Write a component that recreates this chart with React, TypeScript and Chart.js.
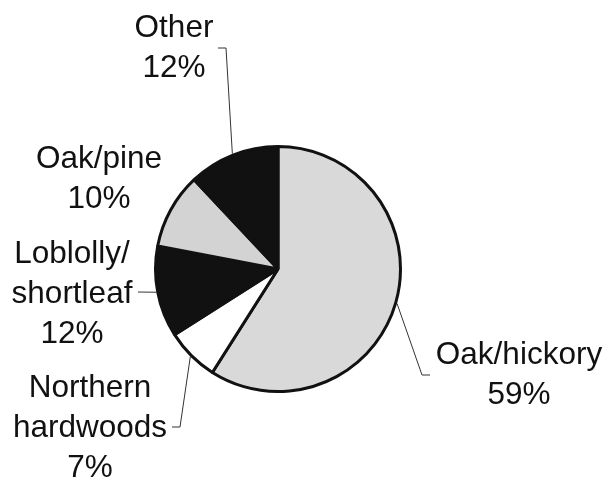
import React, { useEffect, useRef } from "react";
import { Chart, registerables } from "chart.js";

Chart.register(...registerables);

// ---- data ----
const categories = ["Oak/hickory", "Northern hardwoods", "Loblolly/shortleaf", "Oak/pine", "Other"];
const shares = [59, 7, 12, 10, 12];
const nameLines = [["Oak/hickory"], ["Northern", "hardwoods"], ["Loblolly/", "shortleaf"], ["Oak/pine"], ["Other"]];
const sliceColors = ["#d9d9d9", "#ffffff", "#111111", "#d3d3d3", "#111111"];

// ---- label layout (offsets from the pie centre, px) ----
const labelAnchors = [
  { dx: 241, dy: 95 },
  { dx: -188, dy: 128 },
  { dx: -206, dy: -6 },
  { dx: -179, dy: -101 },
  { dx: -104, dy: -232 },
];
const leaderPaths: ({ dx: number; dy: number }[] | null)[] = [
  [{ dx: 144, dy: 106 }, { dx: 152, dy: 106 }],
  [{ dx: -98, dy: 158 }, { dx: -106, dy: 158 }],
  [{ dx: -140, dy: 23 }],
  null,
  [{ dx: -52, dy: -221 }, { dx: -60, dy: -221 }],
];

const FONT = '31.5px "Liberation Sans", Arial, Helvetica, sans-serif';
const LINE_GAP = 40;

const labelPlugin = {
  id: "pieLabels",
  afterDatasetsDraw(chart: any) {
    const ctx = chart.ctx as CanvasRenderingContext2D;
    const meta = chart.getDatasetMeta(0);
    ctx.save();
    meta.data.forEach((arc: any, i: number) => {
      const p = arc.getProps(["x", "y", "startAngle", "endAngle", "outerRadius"], true);
      const mid = (p.startAngle + p.endAngle) / 2;
      const r = p.outerRadius + 1.5;
      const ex = p.x + Math.cos(mid) * r;
      const ey = p.y + Math.sin(mid) * r;
      const path = leaderPaths[i];
      if (path) {
        ctx.beginPath();
        ctx.moveTo(ex, ey);
        path.forEach((pt) => ctx.lineTo(p.x + pt.dx, p.y + pt.dy));
        ctx.strokeStyle = "#333";
        ctx.lineWidth = 1;
        ctx.stroke();
      }
      const lines = [...nameLines[i], `${shares[i]}%`];
      ctx.font = FONT;
      ctx.fillStyle = "#111";
      ctx.textAlign = "center";
      ctx.textBaseline = "alphabetic";
      const a = labelAnchors[i];
      lines.forEach((t, k) => {
        ctx.fillText(t, p.x + a.dx, p.y + a.dy + k * LINE_GAP);
      });
    });
    ctx.restore();
  },
};

export default function App() {
  const ref = useRef<HTMLCanvasElement | null>(null);
  useEffect(() => {
    if (!ref.current) return;
    const chart = new Chart(ref.current, {
      type: "pie",
      data: {
        labels: categories,
        datasets: [
          {
            data: shares,
            backgroundColor: sliceColors,
            borderColor: "#111",
            borderWidth: 3,
          },
        ],
      },
      options: {
        responsive: false,
        animation: false,
        layout: { padding: { left: 154, right: 207, top: 145, bottom: 87 } },
        plugins: {
          legend: { display: false },
          tooltip: { enabled: false },
        },
      },
      plugins: [labelPlugin],
    });
    return () => chart.destroy();
  }, []);
  return (
    <div style={{ position: "fixed", left: 0, top: 0, width: 609, height: 480, background: "#fff" }}>
      <canvas ref={ref} width={609} height={480} style={{ width: 609, height: 480, display: "block" }} />
    </div>
  );
}
